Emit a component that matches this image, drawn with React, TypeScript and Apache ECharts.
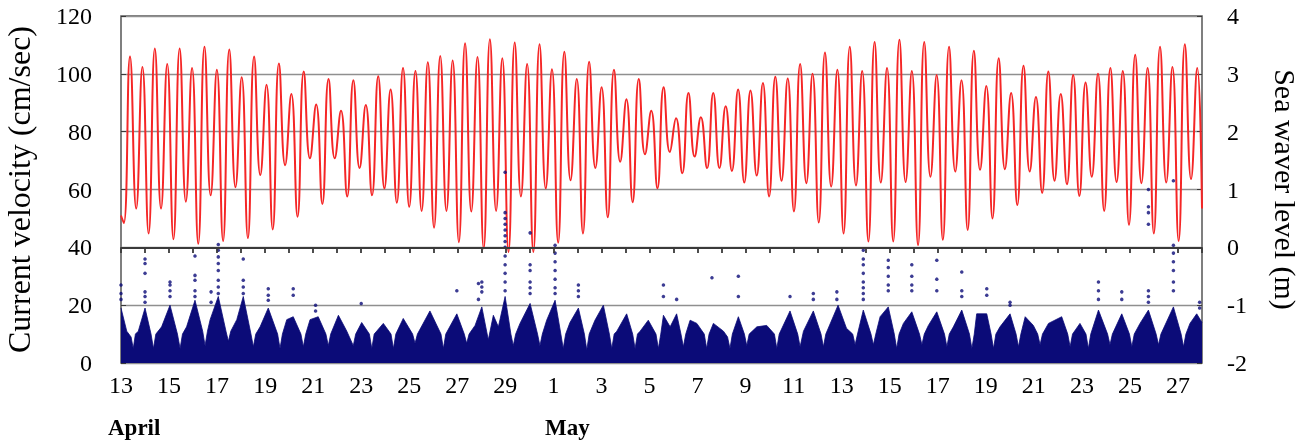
import React, { useEffect, useRef } from 'react';
import * as echarts from 'echarts';

// ---------- DATA ----------
// x axis: days since 13 April (0 .. 45)
const xTickLabels = ['13', '15', '17', '19', '21', '23', '25', '27', '29', '1', '3', '5', '7', '9', '11', '13', '15', '17', '19', '21', '23', '25', '27'];
const monthLabels = ['April', 'May'];
const DAY_COUNT = 45;

// Sea water level (m): successive low / high waters (first entry = first low water)
const FIRST_EXTREMUM_DAY = 0.1167; // time of first low water (days since 13 April)
const HALF_TIDE_DAYS = 0.2583; // time between successive high and low waters
const tideExtremaLevels = [
  0.42,
  3.30, 0.67, 3.12, 0.24, 3.44, 0.67, 3.17, 0.14, 3.44, 0.79, 3.10, 0.06, 3.47, 0.90, 3.07, 0.11,
  3.42, 1.04, 2.94, 0.16, 3.30, 1.25, 2.81, 0.31, 3.18, 1.42, 2.65, 0.53, 3.04, 1.54, 2.47, 0.75,
  2.91, 1.54, 2.36, 0.88, 2.89, 1.37, 2.46, 0.90, 2.96, 1.02, 2.73, 0.77, 3.10, 0.70, 3.05, 0.63,
  3.20, 0.34, 3.31, 0.63, 3.23, 0.09, 3.53, 0.62, 3.29, -0.02, 3.60, 0.63, 3.27, -0.08, 3.54, 0.88,
  3.17, -0.08, 3.51, 1.02, 3.08, 0.08, 3.38, 1.16, 2.91, 0.24, 3.21, 1.37, 2.77, 0.52, 3.07, 1.48,
  2.56, 0.78, 2.91, 1.61, 2.36, 1.02, 2.77, 1.65, 2.23, 1.28, 2.67, 1.57, 2.25, 1.37, 2.67, 1.37,
  2.44, 1.32, 2.73, 1.12, 2.71, 1.24, 2.84, 0.88, 2.95, 1.15, 2.92, 0.62, 3.17, 1.11, 3.00, 0.43,
  3.37, 1.05, 3.07, 0.24, 3.47, 1.07, 3.05, 0.10, 3.55, 1.12, 3.10, 0.10, 3.59, 1.13, 3.05, 0.04,
  3.55, 1.22, 2.98, 0.13, 3.47, 1.31, 2.89, 0.30, 3.40, 1.34, 2.79, 0.50, 3.27, 1.35, 2.67, 0.73,
  3.14, 1.31, 2.60, 0.94, 3.04, 1.15, 2.65, 1.09, 2.98, 0.89, 2.85, 1.22, 3.00, 0.63, 3.10, 1.13,
  3.05, 0.39, 3.33, 1.11, 3.10, 0.24, 3.47, 1.12, 3.12, 0.11, 3.51, 1.18, 3.10,
];
const tideStartLevel = 0.55; // at day 0
const tideEndLevel = 0.67; // at day 45

// Current velocity (cm/s): upper edge of the dense cloud of readings [day, cm/s]
const velEnvelope: [number, number][] = [
  [0.0, 19], [0.24, 11], [0.42, 9], [0.51, 5], [0.6, 10], [0.72, 11], [1.0, 19], [1.25, 10], [1.35, 5], [1.45, 10],
  [1.69, 12.5], [2.04, 20], [2.35, 10], [2.46, 5], [2.56, 10], [2.73, 12.5], [3.08, 21.7], [3.4, 11], [3.5, 6], [3.6, 11],
  [3.71, 15], [4.05, 23], [4.37, 11], [4.47, 7.5], [4.57, 11], [4.82, 15], [5.09, 23], [5.41, 10], [5.51, 5.6], [5.61, 10],
  [5.79, 12.5], [6.13, 19], [6.52, 10], [6.62, 5], [6.72, 10], [6.9, 15], [7.17, 16], [7.49, 10], [7.59, 5.6], [7.69, 10],
  [7.87, 15], [8.21, 16], [8.53, 10], [8.63, 6], [8.73, 10], [9.05, 16.5], [9.4, 11], [9.67, 6], [9.77, 10], [10.02, 14],
  [10.34, 10], [10.44, 5], [10.54, 10], [10.92, 13.7], [11.24, 10], [11.34, 5], [11.44, 10], [11.75, 15.4], [12.14, 10], [12.24, 6.8],
  [12.34, 10], [12.86, 18], [13.32, 10], [13.42, 5], [13.52, 10], [13.98, 17], [14.29, 10], [14.39, 6.8], [14.49, 10], [14.74, 13],
  [15.02, 19.4], [15.29, 8], [15.5, 16.5], [15.71, 12.5], [15.99, 23], [16.23, 10], [16.33, 6], [16.43, 10], [16.61, 13.7], [17.03, 20.6],
  [17.34, 10], [17.44, 6], [17.54, 10], [17.72, 14.8], [18.07, 21.7], [18.31, 10], [18.41, 5], [18.51, 10], [18.69, 14], [19.04, 19],
  [19.29, 10], [19.39, 4.5], [19.49, 10], [19.73, 14.8], [20.08, 20], [20.33, 10], [20.43, 5], [20.53, 10], [20.64, 11], [21.05, 17],
  [21.3, 10], [21.4, 5], [21.5, 10], [21.61, 11], [21.95, 14.8], [22.27, 10], [22.37, 5], [22.47, 10], [22.58, 16.5], [22.86, 12.5],
  [23.13, 17], [23.31, 10], [23.41, 5.6], [23.51, 10], [23.69, 14.8], [23.97, 13.7], [24.28, 10], [24.38, 5], [24.48, 10], [24.66, 13.7],
  [25.08, 11], [25.25, 9], [25.35, 5], [25.45, 10], [25.7, 16], [25.95, 10], [26.05, 6], [26.15, 10], [26.47, 12.5], [26.88, 13],
  [27.2, 10], [27.3, 5], [27.4, 10], [27.85, 18], [28.17, 10], [28.27, 5.6], [28.41, 11], [28.82, 18], [29.14, 10], [29.24, 5.6],
  [29.34, 10], [29.85, 20], [30.2, 12], [30.46, 10], [30.56, 6.3], [30.66, 10], [30.9, 18.3], [31.22, 10], [31.32, 6.3], [31.42, 10],
  [31.6, 16], [31.94, 19.4], [32.19, 10], [32.29, 5], [32.39, 10], [32.57, 13.7], [32.92, 17.7], [33.24, 10], [33.34, 6.3], [33.44, 10],
  [33.61, 13], [33.96, 17.7], [34.28, 10], [34.38, 5.6], [34.48, 10], [34.65, 12.5], [35.0, 18.3], [35.32, 10], [35.42, 5], [35.52, 10],
  [35.62, 17], [36.04, 17], [36.22, 10], [36.32, 5], [36.42, 10], [36.59, 12.5], [37.01, 17], [37.26, 10], [37.36, 5.6], [37.46, 10],
  [37.64, 16], [37.98, 13], [38.16, 10], [38.26, 6.3], [38.36, 10], [38.61, 13.7], [39.16, 16], [39.41, 10], [39.51, 5.6], [39.61, 10],
  [39.92, 13.7], [40.17, 10], [40.27, 5], [40.37, 10], [40.69, 18.3], [41.07, 10], [41.17, 6.3], [41.27, 10], [41.66, 17], [41.98, 10],
  [42.08, 5.6], [42.18, 10], [42.42, 13.7], [42.77, 18.3], [43.09, 10], [43.19, 6.3], [43.29, 10], [43.81, 19.4], [44.13, 10], [44.23, 5.6],
  [44.33, 10], [44.5, 13.7], [44.78, 17], [45.0, 14],
];

// Current velocity (cm/s): isolated high readings, grouped by time
const spikeDays = [
  0.0, 1.0, 2.04, 3.08, 3.75, 4.05, 5.09, 6.13, 7.17, 8.1, 10.0, 13.98, 14.88, 15.02, 15.99, 17.03, 18.07, 19.04,
  22.58, 23.13, 24.6, 25.7, 27.85, 28.82, 29.8, 30.9, 31.94, 32.92, 33.96, 35.0, 36.04, 37.01, 40.69, 41.66, 42.77, 43.81, 44.9,
];
const spikeValues = [
  [27, 24, 22], [36, 34.4, 31, 24.6, 23, 21], [28, 27, 25, 23], [37, 30.3, 28.6, 25, 23], [24.6, 21],
  [41, 39, 36.7, 34.4, 32, 28.6, 26.3, 24], [36, 28.6, 26.3, 24], [25.7, 23.4, 21.7], [25.7, 23.4], [18, 20], [20.6],
  [25], [27.5, 22], [28, 26.3, 24.6], [66, 52, 50, 48, 46, 44, 42, 40, 37, 34, 31, 28, 25], [45, 34, 32, 28, 26, 24],
  [40.7, 38, 35, 32, 29, 26, 24], [27, 25, 23], [27, 23], [22], [29.5], [30, 23], [23], [24, 22], [24.6, 22],
  [39, 36, 34, 31, 28, 26, 24, 22], [35.5, 33, 30, 27, 25], [34, 30, 27, 25], [35.5, 29, 25], [31.5, 25, 23],
  [25.7, 23.4], [20, 21], [28, 25, 22], [24.6, 22], [60, 54, 52, 48, 25, 23, 21], [63, 40.7, 38, 35, 32, 28, 25], [21, 19],
];

// ---------- CHART ----------
const SERIF = '"Liberation Serif", "Times New Roman", serif';
const NAVY = '#0b0b78';
const RED = '#f52626';
const AXIS_GREY = '#3a3a3a';
const TICK_DEPTH_M = 0.1; // tick length of the inner axis, in metres of the right scale

export default function App() {
  const ref = useRef<HTMLDivElement>(null);

  useEffect(() => {
    if (!ref.current) return;
    const chart = echarts.init(ref.current, undefined, { renderer: 'svg' });

    const tideData: number[][] = [[0, tideStartLevel]];
    tideExtremaLevels.forEach((lv, i) => tideData.push([FIRST_EXTREMUM_DAY + i * HALF_TIDE_DAYS, lv]));
    tideData.push([DAY_COUNT, tideEndLevel]);

    const spikeData: number[][] = [];
    spikeDays.forEach((d, i) => spikeValues[i].forEach((v) => spikeData.push([d, v])));

    // inner time axis lying on sea level 0 m: the line plus one tick per day
    const zeroAxisMarks: any[] = [{ yAxis: 0 }];
    for (let d = 0; d <= DAY_COUNT; d++) {
      zeroAxisMarks.push([{ coord: [d, 0] }, { coord: [d, -TICK_DEPTH_M] }]);
    }

    const option: any = {
      animation: false,
      grid: {
        left: 121,
        right: 107,
        top: 16,
        bottom: 81,
        outerBoundsMode: 'none',
        containLabel: false,
        show: true,
        borderColor: '#555',
        borderWidth: 1.5,
      },
      xAxis: {
        type: 'value',
        min: 0,
        max: DAY_COUNT,
        interval: 1,
        position: 'bottom',
        axisLine: { show: false, onZero: false },
        axisTick: { show: false },
        splitLine: { show: false },
        axisLabel: {
          fontFamily: SERIF,
          fontSize: 24,
          color: '#000',
          margin: 10,
          formatter: (v: number) => {
            const k = Math.round(v);
            return k % 2 === 0 ? xTickLabels[k / 2] ?? '' : '';
          },
        },
      },
      yAxis: [
        {
          type: 'value',
          min: 0,
          max: 120,
          interval: 20,
          position: 'left',
          name: 'Current velocity (cm/sec)',
          nameLocation: 'middle',
          nameRotate: 90,
          nameGap: 86,
          nameTextStyle: { fontFamily: SERIF, fontSize: 32, color: '#000' },
          axisLine: { show: false, onZero: false },
          axisTick: { show: true, inside: true, length: 5, lineStyle: { color: AXIS_GREY } },
          axisLabel: { fontFamily: SERIF, fontSize: 24, color: '#000', margin: 29 },
          splitLine: { show: true, lineStyle: { color: '#8f8f8f', width: 1.3 } },
        },
        {
          type: 'value',
          min: -2,
          max: 4,
          interval: 1,
          position: 'right',
          name: 'Sea waver level (m)',
          nameLocation: 'middle',
          nameRotate: -90,
          nameGap: 68,
          nameTextStyle: { fontFamily: SERIF, fontSize: 30, color: '#000' },
          axisLine: { show: false, onZero: false },
          axisTick: { show: true, inside: true, length: 5, lineStyle: { color: AXIS_GREY } },
          axisLabel: { fontFamily: SERIF, fontSize: 24, color: '#000', margin: 25 },
          splitLine: { show: false },
        },
      ],
      graphic: [
        {
          type: 'text',
          left: 108,
          top: 416,
          style: { text: monthLabels[0], font: `bold 23px ${SERIF}`, fill: '#000' },
        },
        {
          type: 'text',
          left: 545,
          top: 416,
          style: { text: monthLabels[1], font: `bold 23px ${SERIF}`, fill: '#000' },
        },
      ],
      series: [
        {
          name: 'velocity cloud',
          type: 'line',
          yAxisIndex: 0,
          data: velEnvelope,
          symbol: 'none',
          lineStyle: { width: 0.8, color: NAVY },
          areaStyle: { color: NAVY, opacity: 1 },
          z: 2,
        },
        {
          name: 'sea level',
          type: 'line',
          yAxisIndex: 1,
          data: tideData,
          smooth: 0.5,
          symbol: 'none',
          lineStyle: { width: 2, color: RED },
          z: 3,
          markLine: {
            silent: true,
            symbol: 'none',
            label: { show: false },
            lineStyle: { color: AXIS_GREY, width: 1.8, type: 'solid' },
            data: zeroAxisMarks,
          },
        },
        {
          name: 'velocity high readings',
          type: 'scatter',
          yAxisIndex: 0,
          data: spikeData,
          symbolSize: 3.5,
          itemStyle: { color: NAVY },
          z: 4,
        },
      ],
    };

    chart.setOption(option);
    return () => chart.dispose();
  }, []);

  return <div ref={ref} style={{ position: 'fixed', left: 0, top: 0, width: 1309, height: 444 }} />;
}
